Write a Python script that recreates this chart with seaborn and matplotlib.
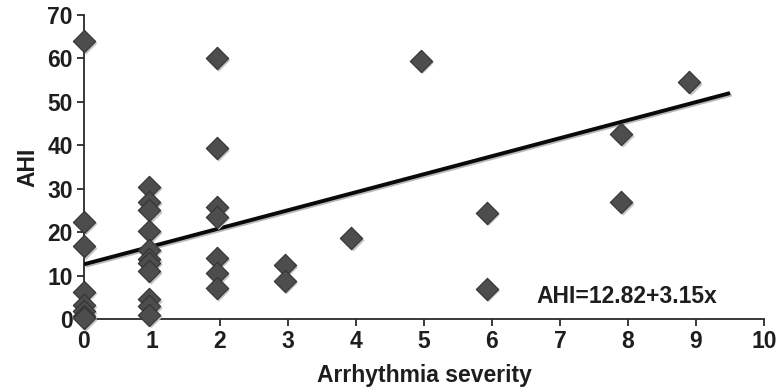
import matplotlib
matplotlib.use("Agg")
import matplotlib.pyplot as plt
import matplotlib.transforms as mtransforms
import seaborn as sns
import pandas as pd
import numpy as np

# ---- data ----
severity = [0, 0, 0, 0, 0, 0, 0, 0,
            0.96, 0.96, 0.96, 0.96, 0.96, 0.96, 0.96, 0.96, 0.96, 0.96, 0.96,
            1.95, 1.95, 1.95, 1.95, 1.95, 1.95, 1.95,
            2.95, 2.95,
            3.93,
            4.95,
            5.92, 5.92,
            7.9, 7.9,
            8.9]
ahi = [64, 22.4, 16.7, 6.3, 3.2, 1.8, 0.8, 0.2,
       30.5, 27, 25, 20.3, 16, 13.8, 13, 11, 4.5, 3, 1,
       60, 39.3, 25.9, 23.6, 14, 10.5, 7.1,
       12.4, 8.8,
       18.6,
       59.5,
       24.5, 7,
       42.6, 26.9,
       54.5]
fit_intercept = 12.6
fit_slope = 4.15
fit_x_range = [0, 9.5]
equation_label = "AHI=12.82+3.15x"
x_ticks = list(range(0, 11))
y_ticks = list(range(0, 71, 10))

df = pd.DataFrame({"Arrhythmia severity": severity, "AHI": ahi})

sns.set_theme(style="white")
plt.rcParams["font.family"] = ["Liberation Sans", "DejaVu Sans"]
plt.rcParams["font.weight"] = "bold"

fig = plt.figure(figsize=(7.76, 3.92), dpi=100)
ax = fig.add_axes([84 / 776, 1 - 319 / 392, (764 - 84) / 776, (319 - 15) / 392])

text_color = "#1e1e1e"
msize = 130

# fitted line (with light shadow)
fx = np.array(fit_x_range, dtype=float)
fy = fit_intercept + fit_slope * fx
shadow_tr = mtransforms.offset_copy(ax.transData, fig=fig, x=1.5, y=-1.5, units="dots")
ax.plot(fx, fy, color="#b8b8b8", lw=2.8, transform=shadow_tr, zorder=2, solid_capstyle="butt")
ax.plot(fx, fy, color="#0a0a0a", lw=2.8, zorder=3, solid_capstyle="butt")

# marker shadows
marker_shadow_tr = mtransforms.offset_copy(ax.transData, fig=fig, x=2.2, y=-2.2, units="dots")
sns.scatterplot(data=df, x="Arrhythmia severity", y="AHI", marker="D", s=msize,
                color="#c4c4c4", edgecolor="none", ax=ax, zorder=3, clip_on=False)
ax.collections[-1].set_offset_transform(marker_shadow_tr)

# markers
sns.scatterplot(data=df, x="Arrhythmia severity", y="AHI", marker="D", s=msize,
                color="#4d4d4d", edgecolor="#333333", linewidth=0.8, ax=ax,
                zorder=4, clip_on=False)

ax.set_xlim(0, 10)
ax.set_ylim(0, 70)
ax.set_xticks(x_ticks)
ax.set_yticks(y_ticks)

for side in ["top", "right"]:
    ax.spines[side].set_visible(False)
for side in ["left", "bottom"]:
    ax.spines[side].set_color("#2a2a2a")
    ax.spines[side].set_linewidth(1.3)

ax.tick_params(axis="both", which="major", direction="out", length=5, width=1.3,
               color="#2a2a2a", labelsize=16.5, labelcolor=text_color, pad=3,
               bottom=True, left=True)
for lbl in ax.get_xticklabels() + ax.get_yticklabels():
    lbl.set_fontweight("bold")

ax.set_xlabel("Arrhythmia severity", fontsize=16.5, fontweight="bold",
              color=text_color, labelpad=8)
ax.set_ylabel("AHI", fontsize=16.5, fontweight="bold", color=text_color, labelpad=6)

ax.text(0.665, 0.035, equation_label, transform=ax.transAxes, fontsize=16.5,
        fontweight="bold", color=text_color, ha="left", va="bottom")

fig.savefig("out.png", dpi=100)
